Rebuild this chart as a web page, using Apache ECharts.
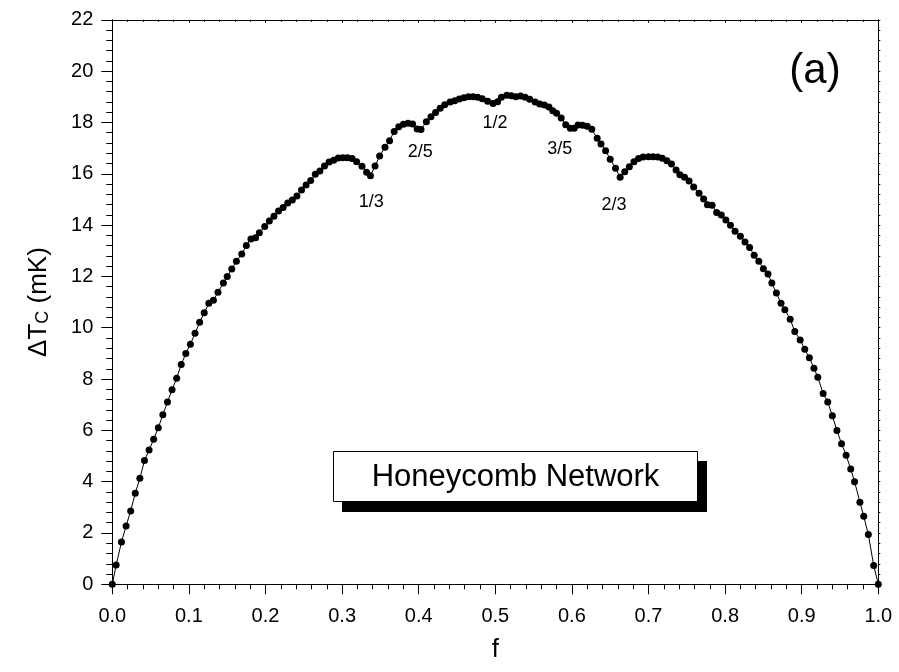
<!DOCTYPE html>
<html><head><meta charset="utf-8">
<script src="https://cdn.jsdelivr.net/npm/echarts@6/dist/echarts.min.js"></script>
<style>html,body{margin:0;padding:0;background:#fff}#c{width:899px;height:672px}</style>
</head><body><div id="c"></div>
<script>
// f values (x)
const fValues = [
 0, 0.005, 0.012, 0.018, 0.024, 0.030, 0.036, 0.042, 0.048, 0.054,
 0.060, 0.066, 0.072, 0.078, 0.084, 0.090, 0.096, 0.102, 0.108, 0.114,
 0.120, 0.126, 0.132, 0.138, 0.145, 0.150, 0.156, 0.162, 0.169, 0.175,
 0.181, 0.187, 0.192, 0.199, 0.205, 0.211, 0.217, 0.223, 0.229, 0.235,
 0.241, 0.247, 0.253, 0.259, 0.265, 0.271, 0.277, 0.283, 0.289, 0.295,
 0.301, 0.307, 0.313, 0.319, 0.326, 0.332, 0.337, 0.343, 0.349, 0.356,
 0.362, 0.368, 0.374, 0.380, 0.386, 0.392, 0.398, 0.403, 0.410, 0.416,
 0.422, 0.428, 0.434, 0.441, 0.447, 0.453, 0.459, 0.465, 0.471, 0.477,
 0.483, 0.490, 0.497, 0.503, 0.508, 0.515, 0.521, 0.527, 0.533, 0.539,
 0.545, 0.552, 0.558, 0.564, 0.570, 0.575, 0.580, 0.586, 0.592, 0.598,
 0.603, 0.608, 0.614, 0.620, 0.626, 0.633, 0.638, 0.644, 0.650, 0.657,
 0.663, 0.669, 0.675, 0.681, 0.687, 0.693, 0.700, 0.706, 0.712, 0.718,
 0.724, 0.730, 0.736, 0.741, 0.747, 0.753, 0.759, 0.766, 0.772, 0.777,
 0.783, 0.789, 0.795, 0.801, 0.807, 0.813, 0.820, 0.826, 0.832, 0.838,
 0.844, 0.850, 0.856, 0.861, 0.867, 0.873, 0.878, 0.885, 0.891, 0.898,
 0.904, 0.910, 0.916, 0.921, 0.928, 0.934, 0.940, 0.946, 0.952, 0.958,
 0.964, 0.969, 0.976, 0.981, 0.987, 0.994, 1.0
];
// Delta Tc (mK)
const dTc = [
 0, 0.75, 1.65, 2.27, 2.86, 3.55, 4.13, 4.82, 5.23, 5.65,
 6.10, 6.61, 7.10, 7.58, 8.03, 8.57, 8.99, 9.36, 9.78, 10.21,
 10.58, 10.95, 11.07, 11.38, 11.74, 12.00, 12.29, 12.59, 12.87, 13.20,
 13.46, 13.51, 13.70, 13.94, 14.16, 14.34, 14.55, 14.68, 14.86, 14.98,
 15.13, 15.37, 15.56, 15.74, 15.98, 16.11, 16.30, 16.46, 16.53, 16.61,
 16.62, 16.62, 16.59, 16.47, 16.29, 16.06, 15.92, 16.30, 16.69, 17.03,
 17.29, 17.65, 17.83, 17.93, 17.97, 17.94, 17.74, 17.72, 18.03, 18.22,
 18.39, 18.55, 18.69, 18.80, 18.85, 18.91, 18.96, 19.00, 19.00, 18.98,
 18.92, 18.83, 18.74, 18.81, 18.98, 19.06, 19.04, 19.00, 19.03, 18.98,
 18.90, 18.80, 18.72, 18.68, 18.60, 18.46, 18.36, 18.17, 17.91, 17.77,
 17.77, 17.90, 17.89, 17.85, 17.73, 17.38, 17.16, 16.90, 16.57, 16.21,
 15.86, 16.08, 16.27, 16.47, 16.59, 16.65, 16.66, 16.66, 16.65, 16.60,
 16.51, 16.38, 16.15, 15.96, 15.86, 15.72, 15.48, 15.24, 15.02, 14.79,
 14.77, 14.49, 14.39, 14.20, 13.99, 13.76, 13.56, 13.34, 13.13, 12.82,
 12.59, 12.30, 12.09, 11.74, 11.35, 10.95, 10.70, 10.33, 9.85, 9.52,
 9.16, 8.83, 8.42, 8.07, 7.44, 7.10, 6.57, 5.99, 5.48, 5.03,
 4.49, 4.00, 3.20, 2.65, 1.94, 0.73, 0
];
// fraction annotations (text and data position)
const fracLabels = ['1/3', '2/5', '1/2', '3/5', '2/3'];
const fracF = [0.338, 0.402, 0.4996, 0.584, 0.655];
const fracY = [14.90, 16.83, 17.98, 16.96, 14.78];

const xMin = 0, xMax = 1, xStep = 0.1;
const yMin = 0, yMax = 22, yStep = 2;

const FONT = 'Liberation Sans, Arial, sans-serif';
const chart = echarts.init(document.getElementById('c'), null, {renderer: 'canvas'});

chart.setOption({
  animation: false,
  backgroundColor: '#fff',
  grid: {left: 112.3, right: 20.7, top: 19.8, bottom: 87.7, containLabel: false},
  xAxis: [{
    type: 'value', min: xMin, max: xMax, interval: xStep, position: 'bottom',
    axisLine: {show: true, onZero: false, lineStyle: {color: '#000', width: 1}},
    axisTick: {show: true, inside: false, length: 10, lineStyle: {color: '#000', width: 1}},
    minorTick: {show: true, splitNumber: 5, length: 5, lineStyle: {color: '#000', width: 1}},
    axisLabel: {fontSize: 20, fontFamily: FONT, color: '#000', margin: 22,
      formatter: v => v.toFixed(1)},
    splitLine: {show: false},
    name: 'f', nameLocation: 'middle', nameGap: 53,
    nameTextStyle: {fontSize: 26, fontFamily: FONT, color: '#000'}
  }, {
    type: 'value', min: xMin, max: xMax, interval: xStep, position: 'top',
    axisLine: {show: true, onZero: false, lineStyle: {color: '#000', width: 1}},
    axisTick: {show: true, inside: true, length: 3, lineStyle: {color: '#000', width: 1}},
    minorTick: {show: true, splitNumber: 5, length: 2, lineStyle: {color: '#000', width: 1}},
    axisLabel: {show: false}, splitLine: {show: false}
  }],
  yAxis: [{
    type: 'value', min: yMin, max: yMax, interval: yStep, position: 'left',
    axisLine: {show: true, onZero: false, lineStyle: {color: '#000', width: 1}},
    axisTick: {show: true, inside: false, length: 11, lineStyle: {color: '#000', width: 1}},
    minorTick: {show: true, splitNumber: 5, length: 6, lineStyle: {color: '#000', width: 1}},
    axisLabel: {fontSize: 20, fontFamily: FONT, color: '#000', margin: 19},
    splitLine: {show: false},
    name: '{a|ΔT}{b|C}{a| (mK)}', nameLocation: 'middle', nameGap: 60, nameRotate: 90,
    nameTextStyle: {
      fontFamily: FONT, color: '#000',
      rich: {
        a: {fontSize: 26, fontFamily: FONT, color: '#000', verticalAlign: 'bottom', lineHeight: 28},
        b: {fontSize: 18, fontFamily: FONT, color: '#000', verticalAlign: 'bottom', lineHeight: 18}
      }
    }
  }, {
    type: 'value', min: yMin, max: yMax, interval: yStep, position: 'right',
    axisLine: {show: true, onZero: false, lineStyle: {color: '#000', width: 1}},
    axisTick: {show: true, inside: false, length: 2, lineStyle: {color: '#000', width: 1}},
    minorTick: {show: true, splitNumber: 5, length: 2, lineStyle: {color: '#000', width: 1}},
    axisLabel: {show: false}, splitLine: {show: false}
  }],
  series: [{
    type: 'line',
    data: fValues.map((f, i) => [f, dTc[i]]),
    symbol: 'circle', symbolSize: 7, showSymbol: true, showAllSymbol: true,
    lineStyle: {color: '#000', width: 1},
    itemStyle: {color: '#000'},
    clip: false,
    z: 3
  }, {
    type: 'scatter',
    data: fracF.map((f, i) => [f, fracY[i]]),
    symbolSize: 1,
    itemStyle: {color: '#fff', opacity: 0},
    silent: true,
    label: {show: true, position: 'inside', formatter: p => fracLabels[p.dataIndex],
      fontSize: 18, fontFamily: FONT, color: '#000', textBorderWidth: 0,
      textBorderColor: 'transparent', opacity: 1}
  }],
  graphic: [
    {type: 'rect', shape: {x: 342, y: 461, width: 365, height: 51}, style: {fill: '#000'}, z: 10},
    {type: 'rect', shape: {x: 333.5, y: 451.5, width: 364, height: 50},
      style: {fill: '#fff', stroke: '#000', lineWidth: 1}, z: 11},
    {type: 'text', x: 515.5, y: 477, z: 12,
      style: {text: 'Honeycomb Network', fontSize: 31, fontFamily: FONT, fill: '#000',
        align: 'center', verticalAlign: 'middle'}},
    {type: 'text', x: 815, y: 71, z: 12,
      style: {text: '(a)', fontSize: 42, fontFamily: FONT, fill: '#000',
        align: 'center', verticalAlign: 'middle'}}
  ]
});
</script>
</body></html>
